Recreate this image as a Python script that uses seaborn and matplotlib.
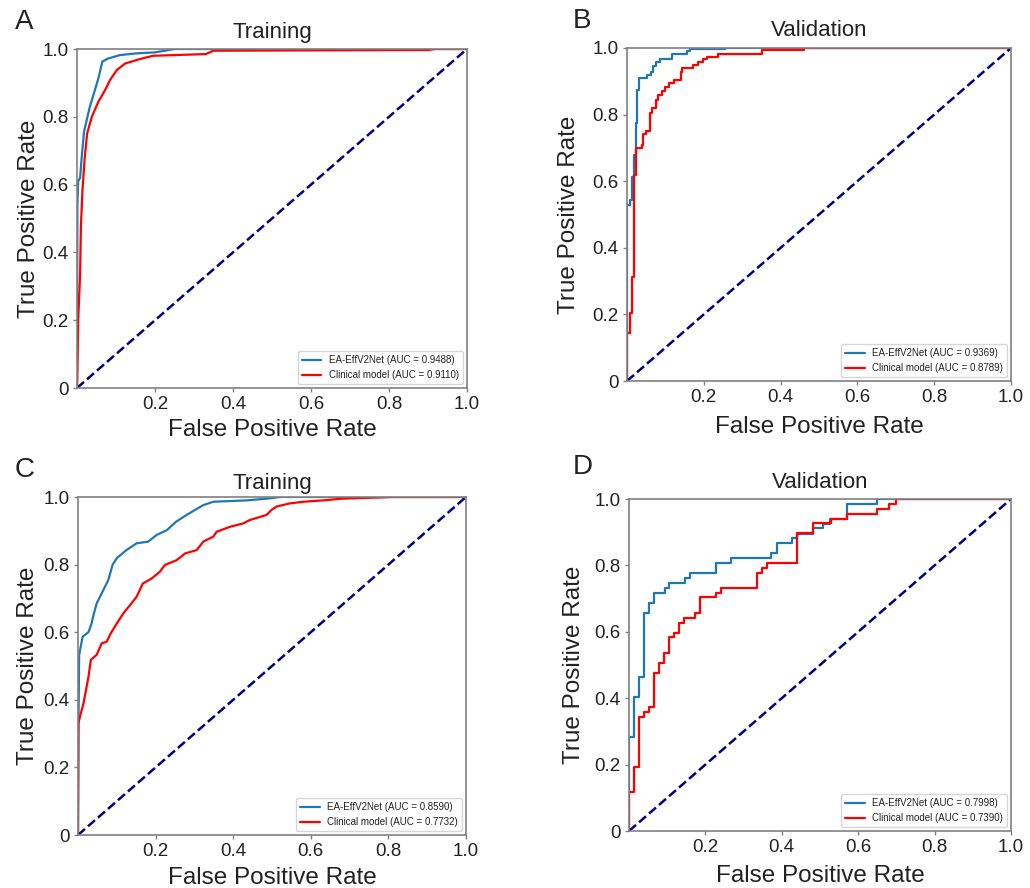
import matplotlib
matplotlib.use("Agg")
import matplotlib.pyplot as plt
import seaborn as sns

sns.set_style("white")
plt.rcParams['font.family'] = ['Liberation Sans', 'DejaVu Sans']
plt.rcParams['text.color'] = '#222222'
plt.rcParams['axes.labelcolor'] = '#222222'
plt.rcParams['xtick.color'] = '#222222'
plt.rcParams['ytick.color'] = '#222222'

BLUE = '#1f77b4'
RED = '#ff0000'

panel_letters = ['A', 'B', 'C', 'D']
panel_titles = ['Training', 'Validation', 'Training', 'Validation']
eff_auc = ['0.9488', '0.9369', '0.8590', '0.7998']
clin_auc = ['0.9110', '0.8789', '0.7732', '0.7390']

x_ticks = [0.2, 0.4, 0.6, 0.8, 1.0]
y_ticks = [0, 0.2, 0.4, 0.6, 0.8, 1.0]
y_tick_labels = ['0', '0.2', '0.4', '0.6', '0.8', '1.0']
diag = [0, 1]

# A - training, first model set (dense curves, drawn as lines)
a_eff_fpr = [0, 0.001, 0.003, 0.008, 0.012, 0.018, 0.025, 0.033, 0.042, 0.055, 0.065,
             0.08, 0.11, 0.15, 0.2, 0.25, 1.0]
a_eff_tpr = [0, 0.54, 0.61, 0.62, 0.68, 0.756, 0.791, 0.83, 0.864, 0.914, 0.963,
             0.972, 0.982, 0.987, 0.99, 1.0, 1.0]
a_cli_fpr = [0, 0.001, 0.003, 0.008, 0.01, 0.014, 0.02, 0.026, 0.038, 0.055, 0.072,
             0.085, 0.102, 0.123, 0.16, 0.195, 0.33, 0.35, 0.9, 0.92, 1.0]
a_cli_tpr = [0, 0.05, 0.2, 0.338, 0.476, 0.584, 0.682, 0.751, 0.8, 0.845, 0.879,
             0.909, 0.938, 0.957, 0.97, 0.98, 0.985, 0.995, 0.997, 1.0, 1.0]

# B - validation (step curves)
b_eff_fpr = [0, 0.001, 0.008, 0.012, 0.017, 0.023, 0.027, 0.031, 0.051, 0.062, 0.069,
             0.076, 0.086, 0.116, 0.155, 0.164, 0.255, 1.0]
b_eff_tpr = [0, 0.528, 0.543, 0.614, 0.679, 0.774, 0.874, 0.909, 0.919, 0.929, 0.946,
             0.959, 0.966, 0.982, 0.99, 0.996, 1.0, 1.0]
b_cli_fpr = [0, 0.001, 0.008, 0.014, 0.018, 0.023, 0.038, 0.042, 0.049, 0.06, 0.064,
             0.076, 0.082, 0.09, 0.1, 0.11, 0.122, 0.14, 0.142, 0.173, 0.186, 0.197,
             0.209, 0.238, 0.351, 0.46, 1.0]
b_cli_tpr = [0, 0.143, 0.203, 0.311, 0.619, 0.699, 0.709, 0.741, 0.752, 0.806, 0.819,
             0.844, 0.859, 0.871, 0.884, 0.894, 0.904, 0.929, 0.939, 0.949, 0.959, 0.966,
             0.974, 0.982, 0.994, 1.0, 1.0]

# C - training, second model set
c_eff_fpr = [0, 0.001, 0.003, 0.012, 0.027, 0.035, 0.04, 0.048, 0.061, 0.078, 0.089,
             0.1, 0.125, 0.151, 0.181, 0.203, 0.229, 0.253, 0.28, 0.302, 0.323, 0.349,
             0.435, 0.495, 0.52, 1.0]
c_eff_tpr = [0, 0.31, 0.533, 0.587, 0.6, 0.626, 0.651, 0.685, 0.715, 0.754, 0.799,
             0.819, 0.843, 0.863, 0.868, 0.888, 0.902, 0.927, 0.947, 0.962, 0.976, 0.986,
             0.99, 0.996, 1.0, 1.0]
c_cli_fpr = [0, 0.001, 0.005, 0.014, 0.027, 0.033, 0.048, 0.061, 0.074, 0.084, 0.1,
             0.117, 0.134, 0.151, 0.167, 0.19, 0.211, 0.224, 0.254, 0.276, 0.306, 0.323,
             0.349, 0.357, 0.392, 0.426, 0.443, 0.486, 0.499, 0.512, 0.546, 0.581, 0.632,
             0.68, 0.81, 1.0]
c_cli_tpr = [0, 0.33, 0.35, 0.389, 0.468, 0.518, 0.533, 0.567, 0.572, 0.596, 0.626,
             0.656, 0.68, 0.705, 0.744, 0.759, 0.779, 0.799, 0.813, 0.833, 0.843, 0.868,
             0.883, 0.897, 0.912, 0.922, 0.932, 0.947, 0.962, 0.972, 0.981, 0.986, 0.99,
             0.995, 1.0, 1.0]

# D - validation (step curves)
d_eff_fpr = [0, 0.001, 0.013, 0.027, 0.039, 0.053, 0.066, 0.094, 0.106, 0.147, 0.16,
             0.228, 0.266, 0.373, 0.387, 0.428, 0.439, 0.481, 0.507, 0.525, 0.57, 0.65, 1.0]
d_eff_tpr = [0, 0.284, 0.405, 0.465, 0.658, 0.688, 0.718, 0.733, 0.746, 0.763, 0.778,
             0.808, 0.821, 0.838, 0.868, 0.883, 0.896, 0.912, 0.926, 0.941, 0.985, 1.0, 1.0]
d_cli_fpr = [0, 0.001, 0.013, 0.027, 0.039, 0.053, 0.066, 0.079, 0.092, 0.106, 0.119,
             0.132, 0.145, 0.173, 0.186, 0.228, 0.24, 0.334, 0.347, 0.36, 0.439, 0.481,
             0.53, 0.57, 0.65, 0.68, 0.70, 1.0]
d_cli_tpr = [0, 0.118, 0.194, 0.342, 0.359, 0.372, 0.477, 0.507, 0.537, 0.583, 0.597,
             0.627, 0.642, 0.657, 0.704, 0.718, 0.733, 0.778, 0.793, 0.808, 0.897, 0.927,
             0.941, 0.955, 0.97, 0.985, 1.0, 1.0]

curves = [
    (a_eff_fpr, a_eff_tpr, a_cli_fpr, a_cli_tpr, 'default'),
    (b_eff_fpr, b_eff_tpr, b_cli_fpr, b_cli_tpr, 'steps-post'),
    (c_eff_fpr, c_eff_tpr, c_cli_fpr, c_cli_tpr, 'default'),
    (d_eff_fpr, d_eff_tpr, d_cli_fpr, d_cli_tpr, 'steps-post'),
]

# axes rectangles in pixels (x0, y0, x1, y1) from the top-left corner
W, H = 1030, 888
boxes_px = [(77, 49, 467, 388), (627, 48, 1011, 381), (78, 497, 466, 835), (629, 499, 1011, 831)]
letter_px = [(15, 22), (573, 21), (15, 470), (573, 467)]
title_pad = [8, 8.5, 6, 8]
xlabel_pad = [4, 7, 5, 6]
ylabel_pad = [2, 9, 3.5, 7]

fig = plt.figure(figsize=(W / 100, H / 100), dpi=100)

for i, (x0, y0, x1, y1) in enumerate(boxes_px):
    ax = fig.add_axes([x0 / W, 1 - y1 / H, (x1 - x0) / W, (y1 - y0) / H])
    ef, et, cf, ct, ds = curves[i]
    sns.lineplot(x=ef, y=et, ax=ax, color=BLUE, lw=1.6, sort=False, estimator=None,
                 drawstyle=ds, label=f'EA-EffV2Net (AUC = {eff_auc[i]})')
    sns.lineplot(x=cf, y=ct, ax=ax, color=RED, lw=1.6, sort=False, estimator=None,
                 drawstyle=ds, label=f'Clinical model (AUC = {clin_auc[i]})')
    sns.lineplot(x=diag, y=diag, ax=ax, color='navy', lw=1.8, linestyle='--',
                 sort=False, estimator=None)
    ax.set_xlim(0, 1)
    ax.set_ylim(0, 1)
    ax.set_xticks(x_ticks)
    ax.set_xticklabels([f'{t:.1f}' for t in x_ticks])
    ax.set_yticks(y_ticks)
    ax.set_yticklabels(y_tick_labels)
    ax.tick_params(axis='both', labelsize=13.5, direction='out', length=3, width=1,
                   color='#808080', pad=3, bottom=True, left=True)
    for sp in ax.spines.values():
        sp.set_color('#808080')
        sp.set_linewidth(1.2)
    ax.set_xlabel('False Positive Rate', fontsize=17.5, labelpad=xlabel_pad[i])
    ax.set_ylabel('True Positive Rate', fontsize=17.5, labelpad=ylabel_pad[i])
    ax.set_title(panel_titles[i], fontsize=16, pad=title_pad[i])
    leg = ax.legend(loc='lower right', fontsize=7, frameon=True, borderaxespad=0.4,
                    handlelength=2.0)
    leg.get_frame().set_edgecolor('#cccccc')
    lx, ly = letter_px[i]
    fig.text(lx / W, 1 - ly / H, panel_letters[i], fontsize=20, ha='left', va='center')

fig.savefig('out.png', dpi=100)
